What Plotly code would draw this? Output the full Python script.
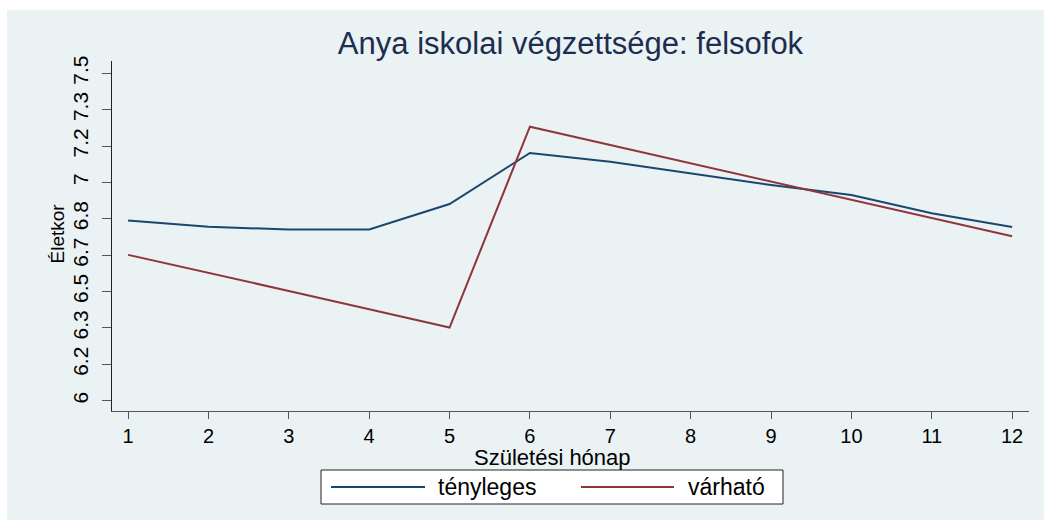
import plotly.graph_objects as go

months = [1, 2, 3, 4, 5, 6, 7, 8, 9, 10, 11, 12]
tenyleges = [6.825, 6.797, 6.784, 6.784, 6.901, 7.135, 7.095, 7.042, 6.988, 6.942, 6.859, 6.796]
varhato = [6.668, 6.587, 6.503, 6.419, 6.335, 7.255, 7.171, 7.088, 7.004, 6.920, 6.836, 6.753]

ytick_vals = [6, 6 + 1/6, 6 + 2/6, 6.5, 6 + 4/6, 6 + 5/6, 7, 7 + 1/6, 7 + 2/6, 7.5]
ytick_text = ["6", "6.2", "6.3", "6.5", "6.7", "6.8", "7", "7.2", "7.3", "7.5"]

title_text = "Anya iskolai végzettsége: felsofok"
x_title = "Születési hónap"
y_title = "Életkor"
series_names = ["tényleges", "várható"]

BLUE = "#1a476f"
RED = "#90353b"
BG = "#eaf2f3"
FONT = "Liberation Sans, Arial, sans-serif"

fig = go.Figure()
fig.add_trace(go.Scatter(x=months, y=tenyleges, mode="lines", name=series_names[0],
                         line=dict(color=BLUE, width=2), showlegend=False))
fig.add_trace(go.Scatter(x=months, y=varhato, mode="lines", name=series_names[1],
                         line=dict(color=RED, width=2), showlegend=False))

W, H = 1044, 520
L, R, T, B = 112, 1029, 61, 411
pw, ph = R - L, B - T


def px(x):
    return (x - L) / pw


def py(y):
    return (B - y) / ph


shapes = [
    # outer background
    dict(type="rect", xref="paper", yref="paper", x0=px(7), x1=px(1050), y0=py(10), y1=py(525),
         fillcolor=BG, line=dict(width=0), layer="below"),
    # legend box
    dict(type="rect", xref="paper", yref="paper", x0=px(321), x1=px(783), y0=py(504), y1=py(470),
         fillcolor="white", line=dict(color="#222222", width=1)),
    dict(type="line", xref="paper", yref="paper", x0=px(331), x1=px(425), y0=py(487), y1=py(487),
         line=dict(color=BLUE, width=2)),
    dict(type="line", xref="paper", yref="paper", x0=px(581), x1=px(674), y0=py(487), y1=py(487),
         line=dict(color=RED, width=2)),
]

annotations = [
    dict(text=series_names[0], xref="paper", yref="paper", x=px(436), y=py(487),
         xanchor="left", yanchor="middle", showarrow=False, font=dict(size=23, color="black", family=FONT)),
    dict(text=series_names[1], xref="paper", yref="paper", x=px(686), y=py(487),
         xanchor="left", yanchor="middle", showarrow=False, font=dict(size=23, color="black", family=FONT)),
    dict(text=x_title, xref="paper", yref="paper", x=px(552), y=py(443),
         xanchor="center", yanchor="top", showarrow=False, font=dict(size=22, color="black", family=FONT)),
    dict(text=y_title, xref="paper", yref="paper", x=px(57), y=py(233.5), textangle=-90,
         xanchor="center", yanchor="middle", showarrow=False, font=dict(size=19, color="black", family=FONT)),
]

fig.update_layout(
    width=W, height=H,
    margin=dict(l=L, r=W - R, t=T, b=H - B, pad=0),
    paper_bgcolor="white",
    plot_bgcolor="white",
    font=dict(family=FONT, color="black"),
    title=dict(text=title_text, x=0.5, xref="paper", xanchor="center",
               y=1 - 43 / H, yref="container", yanchor="middle",
               font=dict(size=31, color="#1c2d50", family=FONT)),
    shapes=shapes,
    annotations=annotations,
    showlegend=False,
)

fig.update_xaxes(
    range=[0.8, 12.21], tickmode="array", tickvals=months, ticktext=[str(m) for m in months],
    showgrid=False, zeroline=False, showline=True, linecolor="#555555", linewidth=1,
    ticks="outside", ticklen=7, tickcolor="#555555", tickfont=dict(size=20, color="black"),
)
fig.update_yaxes(
    range=[5.953, 7.556], tickmode="array", tickvals=ytick_vals, ticktext=ytick_text,
    tickangle=-90, showgrid=True, gridcolor=BG, gridwidth=1.5, zeroline=False,
    showline=True, linecolor="#222222", linewidth=1,
    ticks="outside", ticklen=9, tickcolor="#555555", tickfont=dict(size=21, color="black"),
    ticklabelstandoff=6,
)

fig.write_html("out.html", config={"displayModeBar": False},
               post_script="document.body.style.margin='0';")
